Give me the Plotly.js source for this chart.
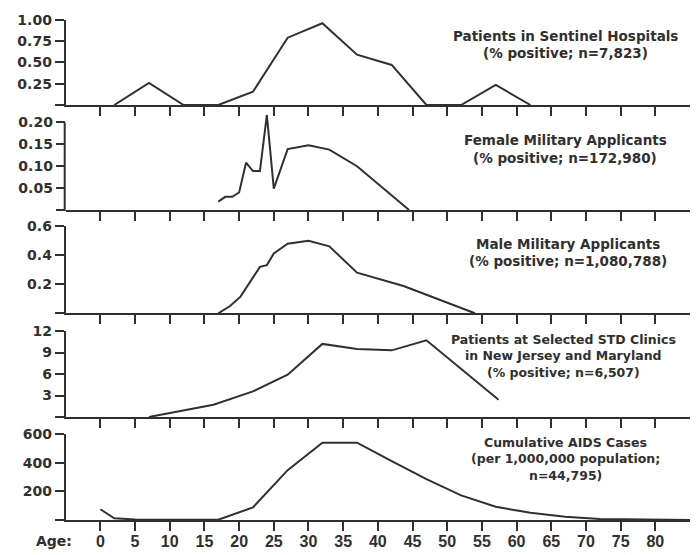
<!DOCTYPE html>
<html>
<head>
<meta charset="utf-8">
<script src="https://cdn.plot.ly/plotly-3.0.1.min.js"></script>
<style>html,body{margin:0;padding:0;background:#fff;}#chart{width:697px;height:555px;}</style>
</head>
<body>
<div id="chart"></div>
<script>
// ---- data ----
var tickAges = [0,5,10,15,20,25,30,35,40,45,50,55,60,65,70,75,80];

var hospAges = [2,7,12,17,22,27,32,37,42,47,52,57,62];
var hospPct  = [0,0.26,0,0,0.155,0.79,0.96,0.59,0.47,0,0,0.235,0];

var femAges = [17,18,19,20,21,22,23,24,25,27,30,33,37,44.5];
var femPct  = [0.019,0.030,0.030,0.040,0.108,0.089,0.089,0.217,0.049,0.139,0.148,0.138,0.10,0];

var maleAges = [17,18.7,20.2,21.6,23,24,25,27,30,33,37,43.7,54];
var malePct  = [0,0.05,0.114,0.216,0.318,0.33,0.41,0.477,0.497,0.459,0.278,0.187,0];

var stdAges = [7,16.3,22,27,32,37,42,47,57.4];
var stdPct  = [0,1.72,3.57,5.9,10.2,9.5,9.3,10.7,2.41];

var aidsAges = [0,2,5,10,15,17,22,27,32,37,42,47,52,57,62,67,72,77,82,85];
var aidsRate = [75,12,4,2,2,2,88,348,539,539,410,285,172,92,50,22,7,3,1,0];

var ytick1 = [0,0.25,0.5,0.75,1.0];       var ytxt1 = ['','0.25','0.50','0.75','1.00'];
var ytick2 = [0,0.05,0.10,0.15,0.20];     var ytxt2 = ['','0.05','0.10','0.15','0.20'];
var ytick3 = [0,0.2,0.4,0.6];             var ytxt3 = ['','0.2','0.4','0.6'];
var ytick4 = [0,3,6,9,12];                var ytxt4 = ['','3','6','9','12'];
var ytick5 = [0,200,400,600];             var ytxt5 = ['','200','400','600'];

var titleLines = [
  ['Patients in Sentinel Hospitals', '(% positive; n=7,823)'],
  ['Female Military Applicants', '(% positive; n=172,980)'],
  ['Male Military Applicants', '(% positive; n=1,080,788)'],
  ['Patients at Selected STD Clinics', 'in New Jersey and Maryland', '(% positive; n=6,507)'],
  ['Cumulative AIDS Cases', '(per 1,000,000 population;', 'n=44,795)']
];

// ---- layout helpers ----
var W = 697, H = 555;
function px(x){ return x / W; }
function py(y){ return (H - y) / H; }
var XDOM = [px(65.7), px(690)];
var INK = '#303030';
var tickFont = {family:'DejaVu Sans, sans-serif', size:14, color:INK, weight:'bold'};
var xTickFont = {family:'Liberation Sans Narrow, Arial Narrow, Liberation Sans, sans-serif', size:16, color:INK, weight:'bold'};

var panels = [
  {x:hospAges, y:hospPct, range:[0,1.0],   top:19.8,  bot:105,   tv:ytick1, tt:ytxt1},
  {x:femAges,  y:femPct,  range:[0,0.222], top:112.8, bot:210,   tv:ytick2, tt:ytxt2},
  {x:maleAges, y:malePct, range:[0,0.6],   top:225.7, bot:313.3, tv:ytick3, tt:ytxt3},
  {x:stdAges,  y:stdPct,  range:[0,12],    top:331,   bot:417,   tv:ytick4, tt:ytxt4},
  {x:aidsAges, y:aidsRate,range:[0,600],   top:434,   bot:520,   tv:ytick5, tt:ytxt5}
];

var data = [];
var layout = {
  width: W, height: H,
  margin: {l:0, r:0, t:0, b:0},
  paper_bgcolor: '#ffffff', plot_bgcolor: '#ffffff',
  showlegend: false,
  annotations: [], shapes: []
};

panels.forEach(function(p, i){
  var n = i + 1;
  var xa = 'xaxis' + (n === 1 ? '' : n), ya = 'yaxis' + (n === 1 ? '' : n);
  var xr = 'x' + (n === 1 ? '' : n), yr = 'y' + (n === 1 ? '' : n);
  data.push({
    x: p.x, y: p.y, xaxis: xr, yaxis: yr,
    type: 'scatter', mode: 'lines',
    line: {color: INK, width: 2},
    hoverinfo: 'skip'
  });
  layout[xa] = {
    domain: XDOM, range: [-5, 85], anchor: yr,
    tickmode: 'array', tickvals: tickAges, ticktext: tickAges.map(String),
    showticklabels: n === 5, tickfont: xTickFont, ticklabelstandoff: -3,
    ticks: 'outside', ticklen: 9, tickwidth: 2, tickcolor: INK,
    showline: true, linewidth: 2, linecolor: INK,
    showgrid: false, zeroline: false, fixedrange: true
  };
  layout[ya] = {
    domain: [py(p.bot), py(p.top)], range: p.range, anchor: xr,
    tickmode: 'array', tickvals: p.tv, ticktext: p.tt,
    tickfont: tickFont,
    ticks: 'outside', ticklen: 9, tickwidth: 2, tickcolor: INK,
    showline: n !== 2, linewidth: 2, linecolor: INK,
    showgrid: false, zeroline: false, fixedrange: true
  };
});

// panel 2: axis line only up to the 0.20 tick (spike rises above it)
(function(){
  var p = panels[1];
  var d0 = py(p.bot), d1 = py(p.top);
  var yTop = d0 + (0.20 / p.range[1]) * (d1 - d0);
  layout.shapes.push({type:'line', xref:'paper', yref:'paper',
    x0: XDOM[0] - 1/W, x1: XDOM[0] - 1/W, y0: d0 - 1/H, y1: yTop,
    line:{color:INK, width:2}});
})();

// per-line title positions [x centre, y of each line, font size] in pixels
var annPos = [
  [565, [35.5, 53], 13.5],
  [565, [140, 158], 13.5],
  [568, [244, 261], 13.5],
  [563, [339, 355.5, 372], 12.5],
  [565, [442, 458.5, 475], 12.5]
];
titleLines.forEach(function(lines, i){
  lines.forEach(function(t, j){
    layout.annotations.push({
      text: '<b>' + t + '</b>', xref:'paper', yref:'paper',
      x: px(annPos[i][0]), y: py(annPos[i][1][j]),
      xanchor:'center', yanchor:'middle', align:'center', showarrow:false,
      font:{family:'DejaVu Sans, sans-serif', size:annPos[i][2], color:INK}
    });
  });
});
layout.annotations.push({
  text:'<b>Age:</b>', xref:'paper', yref:'paper', x:px(54), y:py(541),
  xanchor:'center', yanchor:'middle', showarrow:false,
  font:{family:'DejaVu Sans, sans-serif', size:14, color:INK}
});

Plotly.newPlot('chart', data, layout, {displayModeBar:false, staticPlot:true});
</script>
</body>
</html>
